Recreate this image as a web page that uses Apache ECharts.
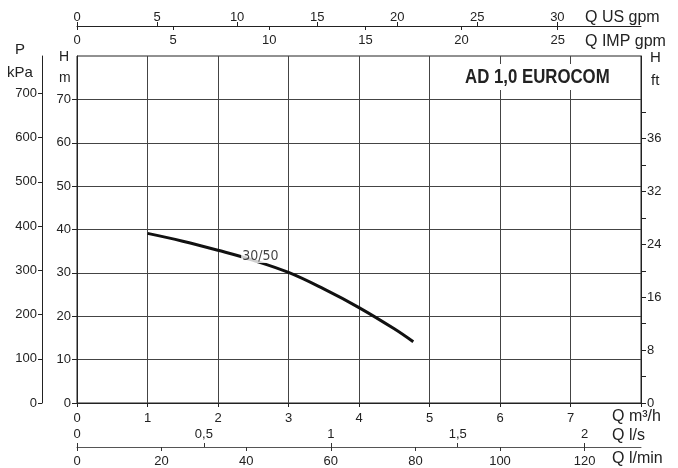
<!DOCTYPE html>
<html>
<head>
<meta charset="utf-8">
<script src="https://cdn.jsdelivr.net/npm/echarts@6/dist/echarts.min.js"></script>
<style>
html,body{margin:0;padding:0;background:#fff;}
#c{width:678px;height:468px;}
</style>
</head>
<body>
<div id="c"></div>
<script>
// ---- data ----
const flowM3h = [1, 1.5, 2, 2.5, 3, 3.5, 4, 4.5, 4.77];
const headM = [39.1, 37.3, 35.2, 32.9, 30.1, 26.3, 22.0, 17.1, 14.1];
const curveName = '30/50';
const curveLabelPos = [2.6, 33.9];
const titleText = 'AD 1,0 EUROCOM';

const m3hTicks = [0, 1, 2, 3, 4, 5, 6, 7];
const lsTicks = [0, 0.5, 1, 1.5, 2];
const lminTicks = [0, 20, 40, 60, 80, 100, 120];
const usGpmTicks = [0, 5, 10, 15, 20, 25, 30];
const impGpmTicks = [0, 5, 10, 15, 20, 25];
const headTicks = [0, 10, 20, 30, 40, 50, 60, 70];
const kpaTicks = [0, 100, 200, 300, 400, 500, 600, 700];
const ftTickValues = [0, 20, 40, 60, 80, 100, 120, 140, 160, 180, 200, 220];
const ftLabelValues = [0, 40, 80, 120, 160, 200];
const ftLabelTexts = ['0', '8', '16', '24', '32', '36'];

// ---- scale limits (unit conversions) ----
const QMAX = 8;          // m3/h
const HMAX = 80;         // m
const LS_MAX = QMAX / 3.6;
const LMIN_MAX = QMAX * 1000 / 60;
const USGPM_MAX = QMAX / 0.2271247;
const IMPGPM_MAX = QMAX / 0.2727654;
const KPA_MAX = HMAX * 9.80665;
const FT_MAX = HMAX / 0.3048;

const FONT = '"Liberation Sans", Arial, sans-serif';
const NARROW = '"DejaVu Sans Condensed", "Liberation Sans Narrow", sans-serif';
const TXT = '#222';
const lbl = (extra) => Object.assign({color: TXT, fontSize: 13, fontFamily: FONT}, extra);
const comma = v => String(v).replace('.', ',');
const line = (c) => ({show: true, onZero: false, lineStyle: {color: c || '#222', width: 1}});

const chart = echarts.init(document.getElementById('c'), null, {renderer: 'canvas'});
chart.setOption({
  animation: false,
  backgroundColor: '#fff',
  grid: {
    left: 77, right: 37, top: 56, bottom: 65,
    show: true, borderColor: '#222', borderWidth: 1,
    containLabel: false, outerBoundsMode: 'none'
  },
  xAxis: [
    { // m3/h
      type: 'value', position: 'bottom', min: 0, max: QMAX, interval: 1,
      axisLine: line(),
      axisTick: {show: true, length: 4, lineStyle: {color: '#222'}},
      axisLabel: lbl({margin: 9, customValues: m3hTicks}),
      splitLine: {show: true, lineStyle: {color: '#444', width: 1}}
    },
    { // l/s (labels above the line)
      type: 'value', position: 'bottom', offset: 44, min: 0, max: LS_MAX,
      axisLine: line('#555'),
      axisTick: {show: true, inside: true, length: 4, customValues: lsTicks, lineStyle: {color: '#333'}},
      axisLabel: lbl({inside: true, margin: 6, customValues: lsTicks, formatter: comma}),
      splitLine: {show: false}
    },
    { // l/min (labels below the line)
      type: 'value', position: 'bottom', offset: 44, min: 0, max: LMIN_MAX,
      axisLine: {show: false, onZero: false},
      axisTick: {show: true, length: 4, customValues: lminTicks, lineStyle: {color: '#333'}},
      axisLabel: lbl({margin: 8, customValues: lminTicks}),
      splitLine: {show: false}
    },
    { // US gpm (top, above)
      type: 'value', position: 'top', offset: 30, min: 0, max: USGPM_MAX,
      axisLine: line(),
      axisTick: {show: true, length: 4, customValues: usGpmTicks, lineStyle: {color: '#222'}},
      axisLabel: lbl({margin: 2, customValues: usGpmTicks}),
      splitLine: {show: false}
    },
    { // IMP gpm (top, below)
      type: 'value', position: 'top', offset: 30, min: 0, max: IMPGPM_MAX,
      axisLine: {show: false, onZero: false},
      axisTick: {show: true, inside: true, length: 4, customValues: impGpmTicks, lineStyle: {color: '#222'}},
      axisLabel: lbl({inside: true, margin: 8, customValues: impGpmTicks}),
      splitLine: {show: false}
    }
  ],
  yAxis: [
    { // H m
      type: 'value', position: 'left', min: 0, max: HMAX, interval: 10,
      axisLine: line(),
      axisTick: {show: true, length: 5, customValues: headTicks, lineStyle: {color: '#222'}},
      axisLabel: lbl({margin: 6, customValues: headTicks}),
      splitLine: {show: true, lineStyle: {color: '#444', width: 1}}
    },
    { // P kPa
      type: 'value', position: 'left', offset: 35, min: 0, max: KPA_MAX,
      axisLine: line(),
      axisTick: {show: true, length: 4, customValues: kpaTicks, lineStyle: {color: '#222'}},
      axisLabel: lbl({margin: 5, customValues: kpaTicks}),
      splitLine: {show: false}
    },
    { // H ft
      type: 'value', position: 'right', min: 0, max: FT_MAX,
      axisLine: line(),
      axisTick: {show: true, length: 5, customValues: ftTickValues, lineStyle: {color: '#222'}},
      axisLabel: lbl({margin: 6, customValues: ftLabelValues,
        formatter: v => ftLabelTexts[ftLabelValues.indexOf(v)] ?? ''}),
      splitLine: {show: false}
    }
  ],
  series: [
    {
      type: 'line', xAxisIndex: 0, yAxisIndex: 0,
      data: flowM3h.map((q, i) => [q, headM[i]]),
      smooth: 0.4, showSymbol: false, symbol: 'none',
      lineStyle: {color: '#111', width: 3},
      z: 3
    },
    {
      type: 'scatter', xAxisIndex: 0, yAxisIndex: 0,
      data: [curveLabelPos], symbolSize: 0,
      label: {show: true, position: 'inside', formatter: curveName,
        fontFamily: NARROW, fontSize: 14, color: '#111',
        backgroundColor: '#fff', padding: [0, 1]},
      z: 5
    }
  ],
  graphic: [
    {type: 'rect', left: 460, top: 64, z: 10, shape: {width: 150, height: 26}, style: {fill: '#fff'}},
    {type: 'text', left: 465, top: 67, z: 11, scaleX: 0.8,
      style: {text: titleText, font: 'bold 21px ' + FONT, fill: TXT}},
    {type: 'text', left: 585, top: 10, style: {text: 'Q US gpm', font: '16px ' + FONT, fill: TXT}},
    {type: 'text', left: 585, top: 34, style: {text: 'Q IMP gpm', font: '16px ' + FONT, fill: TXT}},
    {type: 'text', left: 612, top: 409, style: {text: 'Q m³/h', font: '16px ' + FONT, fill: TXT}},
    {type: 'text', left: 612, top: 428, style: {text: 'Q l/s', font: '16px ' + FONT, fill: TXT}},
    {type: 'text', left: 612, top: 451, style: {text: 'Q l/min', font: '16px ' + FONT, fill: TXT}},
    {type: 'text', left: 15, top: 42, style: {text: 'P', font: '15px ' + FONT, fill: TXT}},
    {type: 'text', left: 7, top: 65, style: {text: 'kPa', font: '15px ' + FONT, fill: TXT}},
    {type: 'text', left: 59, top: 50, style: {text: 'H', font: '14px ' + FONT, fill: TXT}},
    {type: 'text', left: 59, top: 71, style: {text: 'm', font: '14px ' + FONT, fill: TXT}},
    {type: 'text', left: 650, top: 50, style: {text: 'H', font: '15px ' + FONT, fill: TXT}},
    {type: 'text', left: 651, top: 73, style: {text: 'ft', font: '15px ' + FONT, fill: TXT}}
  ]
});
</script>
</body>
</html>
